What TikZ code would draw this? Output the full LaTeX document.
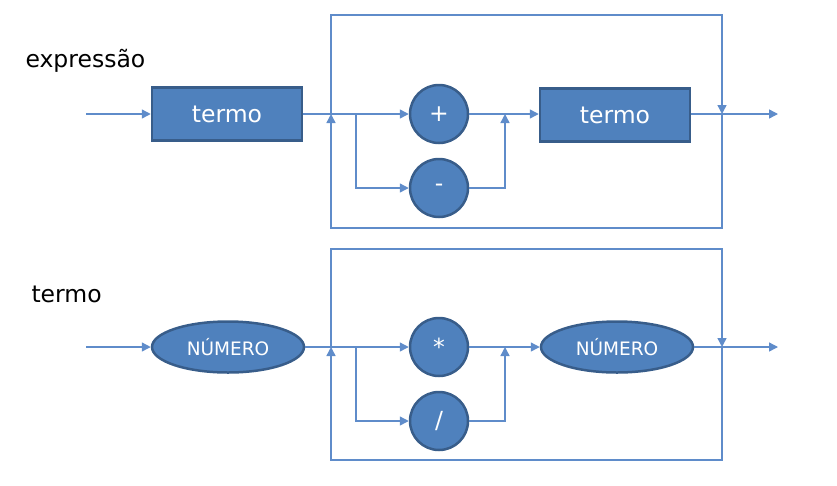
\documentclass[tikz,border=0pt]{standalone}
\usepackage{fontspec}
\setmainfont{DejaVu Sans}
\usetikzlibrary{arrows.meta,shapes.geometric}

\definecolor{pptblue}{RGB}{79,129,189}
\definecolor{pptedge}{RGB}{56,93,138}
\definecolor{linkblue}{RGB}{95,140,202}

\tikzset{
  conn/.style={draw=linkblue, line width=1.4pt},
  arr/.style={conn, -{Triangle[length=9pt,width=9pt]}},
  termbox/.style={rectangle, fill=pptblue, draw=pptedge, line width=2.5pt,
    minimum width=150pt, minimum height=53pt, text=white,
    font=\fontsize{23.5}{27}\selectfont},
  numblob/.style={ellipse, fill=pptblue, draw=pptedge, line width=2.5pt,
    minimum width=152pt, minimum height=51pt, inner sep=0pt, text=white,
    font=\fontsize{18.5}{22}\selectfont},
  opcircle/.style={circle, fill=pptblue, draw=pptedge, line width=2.5pt,
    minimum size=58pt, inner sep=0pt, text=white,
    font=\fontsize{23.5}{27}\selectfont},
  rulename/.style={font=\fontsize{23.5}{27}\selectfont, anchor=west}
}

\begin{document}
\begin{tikzpicture}[x=1pt,y=-1pt]
    \useasboundingbox (0,0) rectangle (837,485);

    % expressao
    \node[rulename] (lblexpr) at (22,61) {expressão};
    \node[termbox] (term1) at (227,114) {termo};
    \node[opcircle] (plus) at (439,114) {+};
    \node[opcircle] (minus) at (439,188) {-};
    \node[termbox] (term2) at (615,115) {termo};

    \coordinate (in1) at (86,114);
    \coordinate (loop1) at (331,114);
    \coordinate (fork1) at (356,114);
    \coordinate (join1) at (505,114);
    \coordinate (back1) at (722,114);
    \coordinate (out1) at (778,114);

    \draw[arr] (in1) -- (term1);
    \draw[arr] (term1.east) -- (plus);
    \draw[arr] (fork1) |- (minus);
    \draw[arr] (minus) -| (join1);
    \draw[arr] (plus) -- (term2.west |- plus);
    \draw[arr] (term2.east |- out1) -- (out1);
    \draw[arr] (loop1) -- (331,15) -- (722,15) -- (back1);
    \draw[arr] (back1) -- (722,228) -- (331,228) -- (loop1);

    % termo
    \node[rulename] (lblterm) at (28,294) {termo};
    \node[numblob] (num1) at (228,347) {NÚMERO};
    \node[opcircle] (times) at (439,347) {*};
    \node[opcircle] (divide) at (439,421) {/};
    \node[numblob] (num2) at (617,347) {NÚMERO};

    \coordinate (in2) at (86,347);
    \coordinate (loop2) at (331,347);
    \coordinate (fork2) at (356,347);
    \coordinate (join2) at (505,347);
    \coordinate (back2) at (722,347);
    \coordinate (out2) at (778,347);

    \draw[arr] (in2) -- (num1);
    \draw[arr] (num1.east) -- (times);
    \draw[arr] (fork2) |- (divide);
    \draw[arr] (divide) -| (join2);
    \draw[arr] (times) -- (num2);
    \draw[arr] (num2.east) -- (out2);
    \draw[arr] (loop2) -- (331,249) -- (722,249) -- (back2);
    \draw[arr] (back2) -- (722,460) -- (331,460) -- (loop2);

\end{tikzpicture}
\end{document}
